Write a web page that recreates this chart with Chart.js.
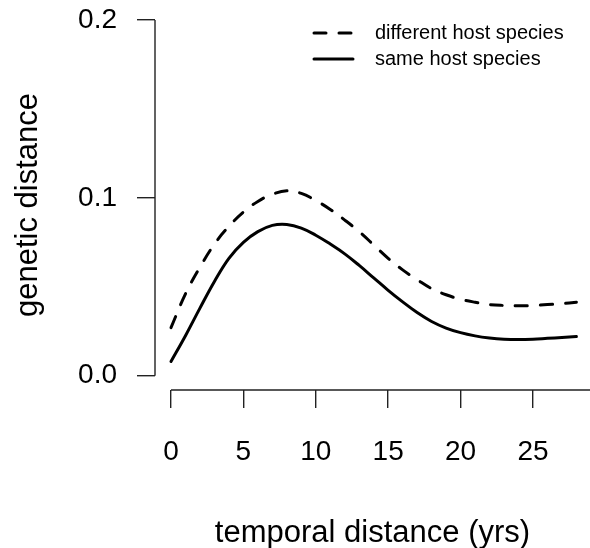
<!DOCTYPE html>
<html>
<head>
<meta charset="utf-8">
<script src="https://cdn.jsdelivr.net/npm/chart.js@4.4.0/dist/chart.umd.min.js"></script>
<style>
  html, body { margin: 0; padding: 0; background: #fff; }
  #wrap { width: 590px; height: 548px; }
</style>
</head>
<body>
<div id="wrap"><canvas id="canvas"></canvas></div>
<script>
// values
var years = [0,1,2,3,4,5,6,7,8,9,10,11,12,13,14,15,16,17,18,19,20,21,22,23,24,25,26,27,28];
var differentHost = [0.027,0.046,0.061,0.074,0.084,0.092,0.098,0.102,0.104,0.1025,0.0985,0.0935,0.0875,0.081,0.0735,0.066,0.0595,0.054,0.049,0.0455,0.043,0.0413,0.040,0.0395,0.0393,0.0395,0.040,0.0405,0.0413];
var sameHost = [0.008,0.0225,0.038,0.053,0.066,0.075,0.081,0.0845,0.085,0.083,0.079,0.074,0.0685,0.062,0.055,0.048,0.0415,0.0355,0.0305,0.0268,0.0242,0.0224,0.0212,0.0205,0.0203,0.0205,0.021,0.0215,0.022];
var xTicks = [0,5,10,15,20,25];
var yTicks = [0, 0.1, 0.2];

var FONT = "'Liberation Sans', Arial, sans-serif";

function pts(ys) {
  return years.map(function(x, i){ return {x: x, y: ys[i]}; });
}

function noPad(s) {
  s.paddingTop = 0; s.paddingBottom = 0; s.paddingLeft = 0; s.paddingRight = 0;
}

// R style detached axis lines + legend box in the top right
var rAxes = {
  id: 'rAxes',
  afterDraw: function(chart) {
    var ctx = chart.ctx, xs = chart.scales.x, ys = chart.scales.y, area = chart.chartArea;
    ctx.save();
    ctx.strokeStyle = '#222';
    ctx.lineWidth = 1.4;
    ctx.beginPath();
    ctx.moveTo(area.left, ys.getPixelForValue(yTicks[0]));
    ctx.lineTo(area.left, ys.getPixelForValue(yTicks[yTicks.length - 1]));
    ctx.moveTo(xs.getPixelForValue(xTicks[0]), area.bottom);
    ctx.lineTo(area.right, area.bottom);
    ctx.stroke();

    var rows = chart.data.datasets;
    ctx.font = '20px ' + FONT;
    ctx.fillStyle = '#000';
    ctx.textBaseline = 'middle';
    rows.forEach(function(ds, i){
      var yy = 33 + i * 26;
      ctx.strokeStyle = '#000';
      ctx.lineWidth = ds.borderWidth;
      ctx.lineCap = 'round';
      ctx.setLineDash(ds.borderDash || []);
      ctx.beginPath();
      ctx.moveTo(314, yy);
      ctx.lineTo(353, yy);
      ctx.stroke();
      ctx.setLineDash([]);
      ctx.fillText(ds.label, 375, yy);
    });
    ctx.restore();
  }
};

window.onload = function(){
  var ctx = document.getElementById("canvas").getContext("2d");
  window.myLine = new Chart(ctx, {
    type: 'line',
    data: {
      datasets: [
        {
          label: "different host species",
          data: pts(differentHost),
          borderColor: '#000',
          borderWidth: 3,
          borderDash: [12, 13],
          borderCapStyle: 'round',
          pointRadius: 0,
          tension: 0.4,
          fill: false
        },
        {
          label: "same host species",
          data: pts(sameHost),
          borderColor: '#000',
          borderWidth: 3,
          borderCapStyle: 'round',
          pointRadius: 0,
          tension: 0.4,
          fill: false
        }
      ]
    },
    options: {
      responsive: true,
      maintainAspectRatio: false,
      animation: false,
      layout: { padding: { top: 20, right: 0, left: 0, bottom: 0 } },
      plugins: { legend: { display: false }, tooltip: { enabled: false } },
      scales: {
        x: {
          type: 'linear',
          min: -1.105,
          max: 28.94,
          afterFit: function(s){ s.height = 158; noPad(s); },
          afterBuildTicks: function(s){ s.ticks = xTicks.map(function(v){ return {value: v}; }); },
          border: { display: false },
          grid: { drawOnChartArea: false, drawTicks: true, tickLength: 18, color: '#222', lineWidth: 1.4 },
          ticks: { padding: 27, color: '#000', font: { family: FONT, size: 28 }, maxRotation: 0,
                   callback: function(v){ return String(v); } },
          title: { display: true, text: 'temporal distance (yrs)', color: '#000',
                   font: { family: FONT, size: 31 }, padding: { top: 0, bottom: -4 } }
        },
        y: {
          type: 'linear',
          min: -0.00804,
          max: 0.2,
          afterFit: function(s){ s.width = 155; noPad(s); },
          afterBuildTicks: function(s){ s.ticks = yTicks.map(function(v){ return {value: v}; }); },
          border: { display: false },
          grid: { drawOnChartArea: false, drawTicks: true, tickLength: 18, color: '#222', lineWidth: 1.4 },
          ticks: { padding: 20, color: '#000', font: { family: FONT, size: 28 },
                   callback: function(v){ return v.toFixed(1); } },
          title: { display: true, text: 'genetic distance', color: '#000',
                   font: { family: FONT, size: 31 }, padding: { top: 10, bottom: 0 } }
        }
      }
    },
    plugins: [rAxes]
  });
};
</script>
</body>
</html>
